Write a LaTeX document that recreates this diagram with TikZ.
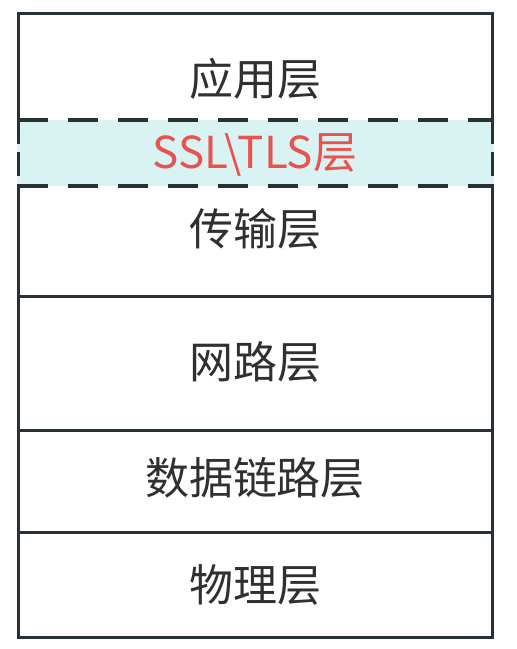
\documentclass[tikz,border=0pt]{standalone}
\usepackage{fontspec}
\setmainfont{Noto Sans CJK SC}
\usepackage{xcolor}
\definecolor{framecol}{HTML}{263238}
\definecolor{bandcol}{HTML}{D9F3F3}
\definecolor{sslcol}{HTML}{E9524F}
\definecolor{textcol}{HTML}{303030}
\tikzset{
	layertext/.style={text=textcol,font=\fontsize{44}{50}\selectfont,inner sep=0pt},
	frameline/.style={draw=framecol,line width=3pt}
}
\begin{document}
\begin{tikzpicture}[x=1pt,y=-1pt]
	\useasboundingbox (0,0) rectangle (517,649);
	\fill[white] (0,0) rectangle (517,649);
	% outer frame and separators
	\draw[frameline] (18,13) rectangle (492,637);
	\draw[frameline] (18,296) -- (492,296);
	\draw[frameline] (18,430) -- (492,430);
	\draw[frameline] (18,532) -- (492,532);
	% ssl band
	\fill[bandcol] (16.5,120) rectangle (493.5,186);
	\draw[framecol,line width=3.6pt,dash pattern=on 30pt off 20pt] (18,120) -- (492,120);
	\draw[framecol,line width=3.6pt,dash pattern=on 30pt off 20pt] (18,186) -- (492,186);
	\draw[framecol,line width=3pt,dash pattern=on 24pt off 8pt] (18,120) -- (18,186);
	\draw[framecol,line width=3pt,dash pattern=on 24pt off 8pt] (492,120) -- (492,186);
	% layer names
	\node[layertext] (app) at (255,79) {应用层};
	\node[layertext,text=sslcol] (ssl) at (255,155) {SSL\textbackslash TLS层};
	\node[layertext] (transport) at (255,229) {传输层};
	\node[layertext] (network) at (255,362) {网路层};
	\node[layertext] (datalink) at (255,478) {数据链路层};
	\node[layertext] (physical) at (255,585) {物理层};
\end{tikzpicture}
\end{document}
